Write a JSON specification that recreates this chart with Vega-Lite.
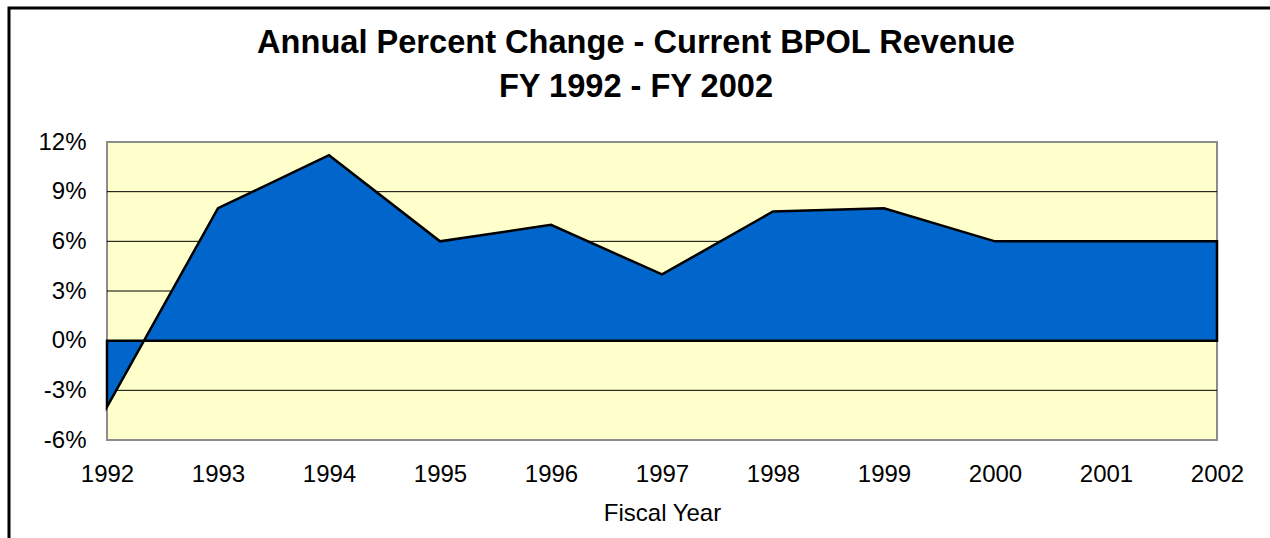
{
  "$schema": "https://vega.github.io/schema/vega-lite/v6.json",
  "width": 1264,
  "height": 533,
  "autosize": "none",
  "padding": {"left": 9, "top": 8, "right": -3, "bottom": -3},
  "background": "white",
  "config": {
    "view": {"stroke": "black", "strokeWidth": 3, "fill": "white"},
    "font": "Liberation Sans"
  },
  "title": {
    "text": ["Annual Percent Change - Current BPOL Revenue", "FY 1992 - FY 2002"],
    "fontSize": 32.6,
    "fontWeight": "bold",
    "color": "black",
    "font": "Liberation Sans",
    "anchor": "middle",
    "frame": "group",
    "offset": -122,
    "baseline": "alphabetic",
    "lineHeight": 44,
    "dx": -5
  },
  "layer": [
    {
      "data": {"values": [{}]},
      "mark": {"type": "rect", "fill": "#FFFFCC", "stroke": "#8C8C8C", "strokeWidth": 2},
      "encoding": {
        "x": {"datum": 1992, "type": "quantitative"},
        "x2": {"datum": 2002},
        "y": {"datum": -6, "type": "quantitative"},
        "y2": {"datum": 12}
      }
    },
    {
      "data": {"values": [{"v": -3}, {"v": 3}, {"v": 6}, {"v": 9}]},
      "mark": {"type": "rule", "color": "black", "strokeWidth": 1},
      "encoding": {
        "x": {"datum": 1992, "type": "quantitative"},
        "x2": {"datum": 2002},
        "y": {"field": "v", "type": "quantitative"}
      }
    },
    {
      "data": {
        "values": [
          {"year": 1992, "change": -4},
          {"year": 1993, "change": 8},
          {"year": 1994, "change": 11.2},
          {"year": 1995, "change": 6},
          {"year": 1996, "change": 7},
          {"year": 1997, "change": 4},
          {"year": 1998, "change": 7.8},
          {"year": 1999, "change": 8},
          {"year": 2000, "change": 6},
          {"year": 2001, "change": 6},
          {"year": 2002, "change": 6}
        ]
      },
      "mark": {"type": "area", "color": "#0066CC", "stroke": "black", "strokeWidth": 2.5, "line": false},
      "encoding": {
        "x": {
          "field": "year",
          "type": "quantitative",
          "scale": {"domain": [1992, 2002], "range": [98, 1208], "nice": false, "zero": false},
          "axis": {
            "values": [1992, 1993, 1994, 1995, 1996, 1997, 1998, 1999, 2000, 2001, 2002],
            "format": "d",
            "title": "Fiscal Year",
            "titleFontSize": 24,
            "titleFontWeight": "normal",
            "titleColor": "black",
            "titleFont": "Liberation Sans",
            "titlePadding": 15,
            "labelFontSize": 24,
            "labelColor": "black",
            "labelFont": "Liberation Sans",
            "labelPadding": 22,
            "labelFlush": false,
            "labelOverlap": false,
            "domain": false,
            "ticks": false,
            "tickSize": 0,
            "grid": false,
            "offset": -101
          }
        },
        "y": {
          "field": "change",
          "type": "quantitative",
          "scale": {"domain": [-6, 12], "range": [432, 134], "nice": false, "zero": false},
          "axis": {
            "values": [-6, -3, 0, 3, 6, 9, 12],
            "labelExpr": "datum.value + '%'",
            "title": null,
            "labelFontSize": 24,
            "labelColor": "black",
            "labelFont": "Liberation Sans",
            "labelPadding": 21,
            "labelFlush": false,
            "labelOverlap": false,
            "domain": false,
            "ticks": false,
            "tickSize": 0,
            "grid": false,
            "offset": -98
          }
        },
        "y2": {"datum": 0}
      }
    }
  ]
}
